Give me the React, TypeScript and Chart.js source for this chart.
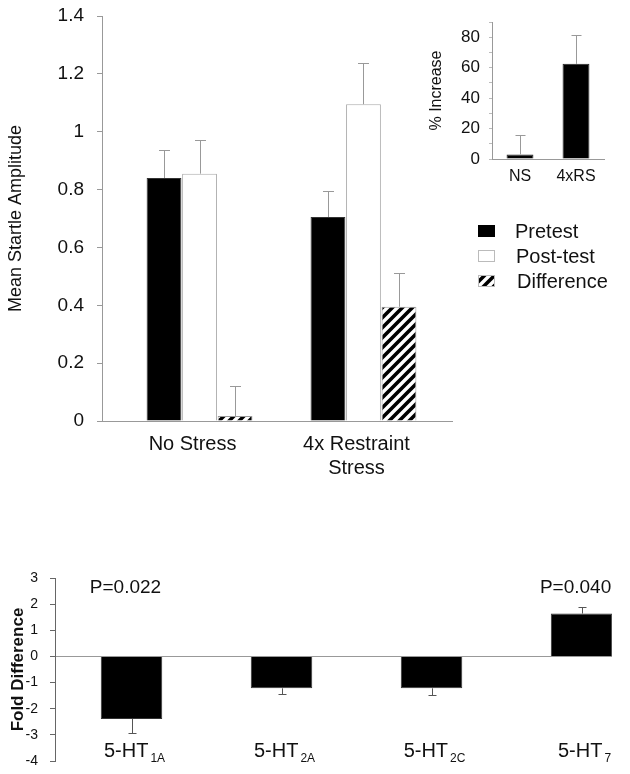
import React, { useEffect, useRef } from 'react';
import { Chart, registerables } from 'chart.js';

Chart.register(...registerables);

const FONT = '"Liberation Sans", Arial, Helvetica, sans-serif';
Chart.defaults.font.family = FONT;
Chart.defaults.color = '#111';

// ---------- Top chart data ----------
const groupLabels: (string | string[])[] = ['No Stress', ['4x Restraint', 'Stress']];
const seriesNames = ['Pretest', 'Post-test', 'Difference'];
const pretest = [0.84, 0.705];
const pretestErr = [0.096, 0.089];
const posttest = [0.855, 1.095];
const posttestErr = [0.118, 0.141];
const difference = [0.017, 0.395];
const differenceErr = [0.104, 0.115];
const topYTicks = [0, 0.2, 0.4, 0.6, 0.8, 1, 1.2, 1.4];

// ---------- Inset data ----------
const insetLabels = ['NS', '4xRS'];
const insetValues = [3, 62.5];
const insetErr = [13, 19];
const insetTicks = [0, 10, 20, 30, 40, 50, 60, 70, 80, 90];

// ---------- Bottom chart data ----------
const receptorBase = ['5-HT', '5-HT', '5-HT', '5-HT'];
const receptorSub = ['1A', '2A', '2C', '7'];
const foldValues = [-2.39, -1.22, -1.22, 1.64];
const foldErr = [0.54, 0.21, 0.25, 0.25];
const pLabels = ['P=0.022', '', '', 'P=0.040'];
const foldTicks = [-4, -3, -2, -1, 0, 1, 2, 3];

function makeHatch(): CanvasPattern | string {
  const c = document.createElement('canvas');
  c.width = 10;
  c.height = 10;
  const g = c.getContext('2d');
  if (!g) return '#888';
  g.fillStyle = '#fff';
  g.fillRect(0, 0, 10, 10);
  g.strokeStyle = '#000';
  g.lineWidth = 3.6;
  g.beginPath();
  g.moveTo(-2, 12);
  g.lineTo(12, -2);
  g.moveTo(-2, 2);
  g.lineTo(2, -2);
  g.moveTo(8, 12);
  g.lineTo(12, 8);
  g.stroke();
  return g.createPattern(c, 'repeat') || '#888';
}

function errorPlugin(errs: number[][], color: string, cap: number) {
  return {
    id: 'errorBars',
    afterDatasetsDraw(chart: any) {
      const ctx = chart.ctx;
      const ys = chart.scales.y;
      ctx.save();
      ctx.strokeStyle = color;
      ctx.lineWidth = 1;
      chart.data.datasets.forEach((ds: any, di: number) => {
        const meta = chart.getDatasetMeta(di);
        meta.data.forEach((bar: any, i: number) => {
          const raw = ds.data[i];
          const v = typeof raw === 'number' ? raw : raw.y;
          const e = errs[di][i];
          const end = Math.round(ys.getPixelForValue(v >= 0 ? v + e : v - e)) + 0.5;
          const x = Math.round(bar.x) + 0.5;
          ctx.beginPath();
          ctx.moveTo(x, bar.y);
          ctx.lineTo(x, end);
          ctx.moveTo(x - cap / 2, end);
          ctx.lineTo(x + cap / 2, end);
          ctx.stroke();
        });
      });
      ctx.restore();
    },
  };
}

const legendPlugin = {
  id: 'sideLegend',
  afterDraw(chart: any) {
    const ctx = chart.ctx;
    const x0 = chart.chartArea.right + 26;
    const rows = [231, 256, 281];
    ctx.save();
    chart.data.datasets.forEach((ds: any, i: number) => {
      const cy = rows[i];
      ctx.fillStyle = ds.backgroundColor;
      ctx.fillRect(x0, cy - 6, 17, 12);
      ctx.strokeStyle = i === 0 ? '#000' : '#bbb';
      ctx.lineWidth = 1;
      ctx.strokeRect(x0 + 0.5, cy - 5.5, 16, 11);
      ctx.fillStyle = '#111';
      ctx.font = `20px ${FONT}`;
      ctx.textBaseline = 'middle';
      ctx.textAlign = 'left';
      ctx.fillText(ds.label, x0 + 37 + i, cy + 1);
    });
    ctx.restore();
  },
};

const receptorLabelPlugin = {
  id: 'receptorLabels',
  afterDraw(chart: any) {
    const ctx = chart.ctx;
    const meta = chart.getDatasetMeta(0);
    const area = chart.chartArea;
    ctx.save();
    ctx.fillStyle = '#111';
    meta.data.forEach((bar: any, i: number) => {
      ctx.font = `20px ${FONT}`;
      const wMain = ctx.measureText(receptorBase[i]).width;
      ctx.font = `12px ${FONT}`;
      const wSub = ctx.measureText(receptorSub[i]).width;
      const total = wMain + 2 + wSub;
      const left = bar.x - total / 2 + 3;
      const base = area.bottom - 4;
      ctx.textAlign = 'left';
      ctx.textBaseline = 'alphabetic';
      ctx.font = `20px ${FONT}`;
      ctx.fillText(receptorBase[i], left, base);
      ctx.font = `12px ${FONT}`;
      ctx.fillText(receptorSub[i], left + wMain + 2, base + 5);
      if (pLabels[i]) {
        ctx.font = `19px ${FONT}`;
        ctx.textAlign = 'center';
        ctx.textBaseline = 'middle';
        ctx.fillText(pLabels[i], bar.x - 6, area.top + 10);
      }
    });
    ctx.restore();
  },
};

export default function App() {
  const topRef = useRef<HTMLCanvasElement>(null);
  const insetRef = useRef<HTMLCanvasElement>(null);
  const botRef = useRef<HTMLCanvasElement>(null);

  useEffect(() => {
    const hatch = makeHatch();
    const charts: Chart[] = [];

    // Top grouped bar chart
    charts.push(
      new Chart(topRef.current as HTMLCanvasElement, {
        type: 'bar',
        data: {
          datasets: [
            {
              label: seriesNames[0],
              data: pretest.map((y, x) => ({ x, y })),
              backgroundColor: '#000',
              borderColor: '#333',
              borderWidth: 1,
            },
            {
              label: seriesNames[1],
              data: posttest.map((y, x) => ({ x, y })),
              backgroundColor: '#fff',
              borderColor: '#aaa',
              borderWidth: 1,
            },
            {
              label: seriesNames[2],
              data: difference.map((y, x) => ({ x, y })),
              backgroundColor: hatch as any,
              borderColor: '#999',
              borderWidth: 1,
            },
          ] as any,
        },
        options: {
          animation: false,
          responsive: false,
          datasets: { bar: { categoryPercentage: 0.65, barPercentage: 0.98 } },
          layout: { padding: { left: 0, top: 16, right: 178, bottom: 0 } },
          plugins: { legend: { display: false }, tooltip: { enabled: false } },
          scales: {
            x: {
              type: 'linear',
              min: -0.595,
              max: 1.54,
              offset: false,
              bounds: 'data',
              afterBuildTicks: (s: any) => {
                s.ticks = groupLabels.map((_, i) => ({ value: i }));
              },
              afterFit: (s: any) => {
                s.height = 69;
                s.paddingLeft = 0;
                s.paddingRight = 0;
              },
              grid: { display: false },
              border: { display: true, color: '#999' },
              ticks: {
                callback: (v: any) => groupLabels[v as number],
                font: { size: 20 },
                color: '#111',
                padding: 3,
                labelOffset: -7,
                autoSkip: false,
                maxRotation: 0,
              },
            },
            y: {
              min: 0,
              max: 1.4,
              afterBuildTicks: (s: any) => {
                s.ticks = topYTicks.map((v) => ({ value: v }));
              },
              afterFit: (s: any) => {
                s.width = 102;
                s.paddingTop = 0;
                s.paddingBottom = 0;
              },
              grid: { drawOnChartArea: false, tickLength: 5, tickColor: '#999' },
              border: { color: '#999' },
              ticks: {
                callback: (v: any) => String(v),
                font: { size: 19 },
                color: '#111',
                padding: 13,
                autoSkip: false,
              },
              title: {
                display: true,
                text: 'Mean Startle Amplitude',
                font: { size: 18 },
                color: '#111',
                padding: { top: 5, bottom: 0 },
              },
            },
          },
        } as any,
        plugins: [
          errorPlugin([pretestErr, posttestErr, differenceErr], '#999', 11),
          legendPlugin,
        ],
      })
    );

    // Inset chart
    charts.push(
      new Chart(insetRef.current as HTMLCanvasElement, {
        type: 'bar',
        data: {
          labels: insetLabels,
          datasets: [
            {
              label: '% Increase',
              data: insetValues,
              backgroundColor: '#000',
              borderColor: '#222',
              borderWidth: 1,
              barPercentage: 0.48,
              categoryPercentage: 1,
            },
          ],
        },
        options: {
          animation: false,
          responsive: false,
          layout: { padding: { left: 0, top: 22, right: 26, bottom: 0 } },
          plugins: { legend: { display: false }, tooltip: { enabled: false } },
          scales: {
            x: {
              afterFit: (s: any) => {
                s.height = 36;
                s.paddingLeft = 0;
                s.paddingRight = 0;
              },
              grid: { display: false },
              border: { display: true, color: '#999' },
              ticks: { font: { size: 16 }, color: '#111', padding: 0, maxRotation: 0 },
            },
            y: {
              min: 0,
              max: 90,
              afterBuildTicks: (s: any) => {
                s.ticks = insetTicks.map((v) => ({ value: v }));
              },
              afterFit: (s: any) => {
                s.width = 92;
                s.paddingTop = 0;
                s.paddingBottom = 0;
              },
              grid: { drawOnChartArea: false, tickLength: 3, tickColor: '#bbb' },
              border: { color: '#999' },
              ticks: {
                callback: (v: any) => ((v as number) % 20 === 0 ? String(v) : ''),
                font: { size: 17 },
                color: '#111',
                padding: 9,
                autoSkip: false,
              },
              title: {
                display: true,
                text: '% Increase',
                font: { size: 16 },
                color: '#111',
                padding: { top: 27, bottom: 0 },
              },
            },
          },
        } as any,
        plugins: [errorPlugin([insetErr], '#999', 10)],
      })
    );

    // Bottom chart
    charts.push(
      new Chart(botRef.current as HTMLCanvasElement, {
        type: 'bar',
        data: {
          datasets: [
            {
              label: 'Fold Difference',
              data: foldValues.map((y, x) => ({ x, y })),
              backgroundColor: '#000',
              borderColor: '#333',
              borderWidth: 1,
              barPercentage: 0.41,
              categoryPercentage: 1,
            },
          ] as any,
        },
        options: {
          animation: false,
          responsive: false,
          layout: { padding: { left: 0, top: 18, right: 18, bottom: 0 } },
          plugins: { legend: { display: false }, tooltip: { enabled: false } },
          scales: {
            x: {
              type: 'linear',
              min: -0.51,
              max: 3.203,
              offset: false,
              bounds: 'data',
              afterBuildTicks: (s: any) => {
                s.ticks = receptorSub.map((_, i) => ({ value: i }));
              },
              afterFit: (s: any) => {
                s.height = 13;
                s.paddingLeft = 0;
                s.paddingRight = 0;
              },
              grid: { display: false },
              border: { display: false },
              ticks: { display: false },
            },
            y: {
              min: -4,
              max: 3,
              afterBuildTicks: (s: any) => {
                s.ticks = foldTicks.map((v) => ({ value: v }));
              },
              afterFit: (s: any) => {
                s.width = 55;
                s.paddingTop = 0;
                s.paddingBottom = 0;
              },
              grid: {
                drawOnChartArea: true,
                color: (c: any) => (c.tick && c.tick.value === 0 ? '#999' : 'rgba(0,0,0,0)'),
                tickColor: '#666',
                tickLength: 5,
              },
              border: { color: '#666' },
              ticks: {
                callback: (v: any) => String(v),
                font: { size: 14 },
                color: '#111',
                padding: 12,
                autoSkip: false,
              },
              title: {
                display: true,
                text: 'Fold Difference',
                font: { size: 17, weight: 'bold' },
                color: '#111',
                padding: { top: 8, bottom: 0 },
              },
            },
          },
        } as any,
        plugins: [errorPlugin([foldErr], '#555', 8), receptorLabelPlugin],
      })
    );

    return () => {
      charts.forEach((c) => c.destroy());
    };
  }, []);

  return (
    <div
      style={{
        position: 'absolute',
        left: 0,
        top: 0,
        width: 630,
        height: 774,
        background: '#fff',
        overflow: 'hidden',
      }}
    >
      <canvas
        ref={topRef}
        width={630}
        height={490}
        style={{ position: 'absolute', left: 0, top: 0, width: 630, height: 490 }}
      />
      <canvas
        ref={insetRef}
        width={230}
        height={195}
        style={{ position: 'absolute', left: 400, top: 0, width: 230, height: 195 }}
      />
      <canvas
        ref={botRef}
        width={630}
        height={214}
        style={{ position: 'absolute', left: 0, top: 560, width: 630, height: 214 }}
      />
    </div>
  );
}
